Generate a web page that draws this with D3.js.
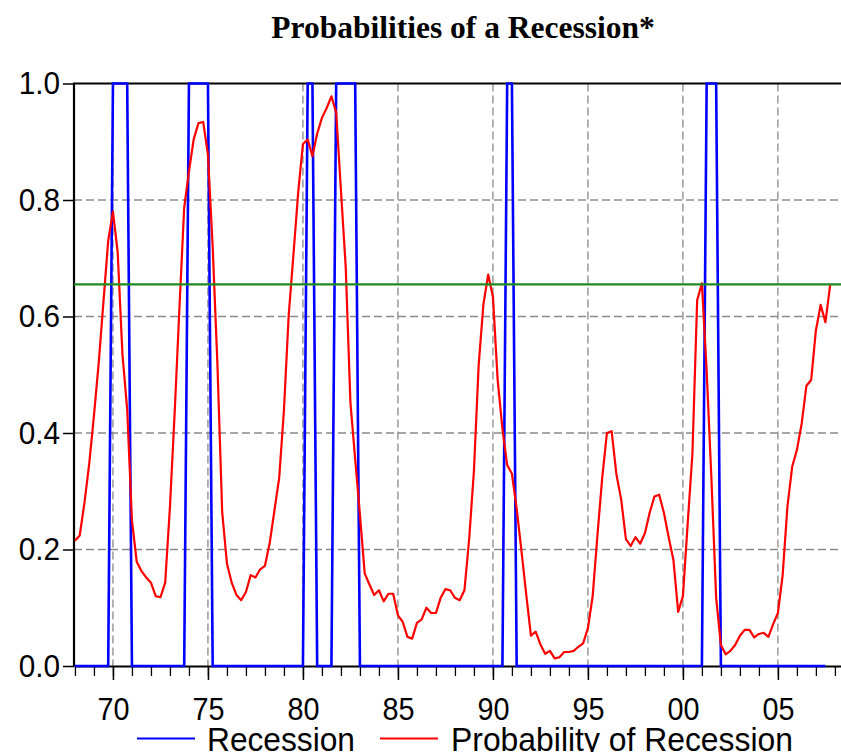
<!DOCTYPE html>
<html>
<head>
<meta charset="utf-8">
<script src="https://cdn.jsdelivr.net/npm/d3@7"></script>
<style>
    body { margin: 0; background: #fff; }
    svg { display: block; }
    .tick-label { font-family: Arial, "Liberation Sans", sans-serif; font-size: 32px; fill: #000; }
    .legend-label { font-family: Arial, "Liberation Sans", sans-serif; font-size: 33px; fill: #000; }
    .title { font-family: "Times New Roman", "Liberation Serif", serif; font-size: 31.5px; font-weight: bold; }
</style>
</head>
<body>
<svg id="chart" width="841" height="752"></svg>
<script>
// Quarterly data, 1968Q1 .. 2007Q4

const startYear = 1968;

// Probability of recession, one row per year (Q1..Q4)
const probability = [
    0.215, 0.224, 0.280, 0.347,   // 1968
    0.430, 0.520, 0.625, 0.730,   // 1969
    0.780, 0.710, 0.535, 0.440,   // 1970
    0.250, 0.179, 0.163, 0.152,   // 1971
    0.143, 0.120, 0.118, 0.143,   // 1972
    0.273, 0.436, 0.615, 0.787,   // 1973
    0.849, 0.904, 0.932, 0.934,   // 1974
    0.878, 0.719, 0.517, 0.264,   // 1975
    0.176, 0.143, 0.122, 0.113,   // 1976
    0.127, 0.156, 0.152, 0.166,   // 1977
    0.172, 0.211, 0.267, 0.323,   // 1978
    0.439, 0.602, 0.706, 0.813,   // 1979
    0.896, 0.904, 0.875, 0.914,   // 1980
    0.941, 0.958, 0.978, 0.950,   // 1981
    0.817, 0.686, 0.452, 0.355,   // 1982
    0.260, 0.159, 0.140, 0.122,   // 1983
    0.130, 0.111, 0.124, 0.124,   // 1984
    0.087, 0.076, 0.050, 0.047,   // 1985
    0.074, 0.080, 0.100, 0.091,   // 1986
    0.091, 0.117, 0.132, 0.130,   // 1987
    0.117, 0.113, 0.130, 0.218,   // 1988
    0.335, 0.517, 0.621, 0.672,   // 1989
    0.634, 0.491, 0.407, 0.345,   // 1990
    0.330, 0.270, 0.198, 0.124,   // 1991
    0.052, 0.059, 0.037, 0.021,   // 1992
    0.026, 0.013, 0.015, 0.024,   // 1993
    0.024, 0.026, 0.033, 0.039,   // 1994
    0.065, 0.120, 0.224, 0.322,   // 1995
    0.400, 0.403, 0.329, 0.286,   // 1996
    0.218, 0.206, 0.221, 0.210,   // 1997
    0.228, 0.263, 0.291, 0.294,   // 1998
    0.263, 0.221, 0.182, 0.093,   // 1999
    0.120, 0.244, 0.364, 0.628,   // 2000
    0.657, 0.507, 0.322, 0.117,   // 2001
    0.036, 0.020, 0.026, 0.036,   // 2002
    0.052, 0.062, 0.062, 0.049,   // 2003
    0.055, 0.057, 0.050, 0.072,   // 2004
    0.091, 0.156, 0.273, 0.342,   // 2005
    0.371, 0.416, 0.481, 0.491,   // 2006
    0.576, 0.620, 0.590, 0.654    // 2007
];

// Recession indicator (1 = recession quarter), 1968Q1 .. 2007Q3
const recession = [
    0, 0, 0, 0,   // 1968
    0, 0, 0, 0,   // 1969
    1, 1, 1, 1,   // 1970
    0, 0, 0, 0,   // 1971
    0, 0, 0, 0,   // 1972
    0, 0, 0, 0,   // 1973
    1, 1, 1, 1,   // 1974
    1, 0, 0, 0,   // 1975
    0, 0, 0, 0,   // 1976
    0, 0, 0, 0,   // 1977
    0, 0, 0, 0,   // 1978
    0, 0, 0, 0,   // 1979
    0, 1, 1, 0,   // 1980
    0, 0, 0, 1,   // 1981
    1, 1, 1, 1,   // 1982
    0, 0, 0, 0,   // 1983
    0, 0, 0, 0,   // 1984
    0, 0, 0, 0,   // 1985
    0, 0, 0, 0,   // 1986
    0, 0, 0, 0,   // 1987
    0, 0, 0, 0,   // 1988
    0, 0, 0, 0,   // 1989
    0, 0, 0, 1,   // 1990
    1, 0, 0, 0,   // 1991
    0, 0, 0, 0,   // 1992
    0, 0, 0, 0,   // 1993
    0, 0, 0, 0,   // 1994
    0, 0, 0, 0,   // 1995
    0, 0, 0, 0,   // 1996
    0, 0, 0, 0,   // 1997
    0, 0, 0, 0,   // 1998
    0, 0, 0, 0,   // 1999
    0, 0, 0, 0,   // 2000
    0, 1, 1, 1,   // 2001
    0, 0, 0, 0,   // 2002
    0, 0, 0, 0,   // 2003
    0, 0, 0, 0,   // 2004
    0, 0, 0, 0,   // 2005
    0, 0, 0, 0,   // 2006
    0, 0, 0       // 2007
];

// Horizontal reference line (latest probability)
const threshold = [0.655];

const yTicks = [0, 0.2, 0.4, 0.6, 0.8, 1.0];
const majorYears = [1970, 1975, 1980, 1985, 1990, 1995, 2000, 2005];
const yearLabels = ['70', '75', '80', '85', '90', '95', '00', '05'];

const seriesNames = ['Recession', 'Probability of Recession'];
const seriesColors = ['#0000ff', '#ff0000'];

const svg = d3.select('#chart');

const plot = { left: 74, right: 842.5, top: 83.5, bottom: 666 };

const x = d3.scaleLinear()
    .domain([1967.95, 2008.4])
    .range([plot.left, plot.right]);

const y = d3.scaleLinear()
    .domain([0, 1])
    .range([plot.bottom, plot.top]);

const quarterDate = i => startYear + i / 4;

// Squeeze tall text horizontally, the way the original renders it
function condense(sel, factor) {
    sel.each(function() {
        const w = this.getComputedTextLength();
        d3.select(this)
            .attr('textLength', w * factor)
            .attr('lengthAdjust', 'spacingAndGlyphs');
    });
}

// Title
svg.append('text')
    .attr('class', 'title')
    .attr('x', 463)
    .attr('y', 38)
    .attr('text-anchor', 'middle')
    .text('Probabilities of a Recession*');

// Grid lines
const grid = svg.append('g').attr('class', 'grid')
    .attr('stroke', '#8a8a8a')
    .attr('stroke-width', 1.3)
    .attr('stroke-dasharray', '8,4');

grid.selectAll('.hgrid')
    .data(yTicks.filter(v => v > 0 && v < 1))
    .enter()
    .append('line')
    .attr('x1', plot.left)
    .attr('x2', plot.right)
    .attr('y1', d => y(d))
    .attr('y2', d => y(d));

grid.selectAll('.vgrid')
    .data(majorYears)
    .enter()
    .append('line')
    .attr('x1', d => x(d))
    .attr('x2', d => x(d))
    .attr('y1', plot.top)
    .attr('y2', plot.bottom);

// Frame: left and top spines
svg.append('path')
    .attr('d', `M${plot.left},${plot.bottom}V${plot.top}H${plot.right}`)
    .attr('fill', 'none')
    .attr('stroke', '#000')
    .attr('stroke-width', 2.2);

// Y axis
const yAxis = d3.axisLeft(y)
    .tickValues(yTicks)
    .tickFormat(d3.format('.1f'))
    .tickSizeInner(11)
    .tickSizeOuter(0)
    .tickPadding(3);

const yAxisG = svg.append('g')
    .attr('transform', `translate(${plot.left},0)`)
    .call(yAxis);
yAxisG.select('.domain').remove();
yAxisG.selectAll('.tick line').attr('stroke', '#000').attr('stroke-width', 1.5);
yAxisG.selectAll('.tick text')
    .attr('class', 'tick-label')
    .attr('font-size', null)
    .attr('font-family', null)
    .call(condense, 0.93);

// X axis: minor yearly ticks, major every five years
const years = d3.range(1968, 2009);

const xMinor = d3.axisBottom(x)
    .tickValues(years)
    .tickFormat('')
    .tickSizeInner(10)
    .tickSizeOuter(0);

const xMinorG = svg.append('g')
    .attr('transform', `translate(0,${plot.bottom})`)
    .call(xMinor);
xMinorG.select('.domain').attr('stroke', '#000').attr('stroke-width', 2.2);
xMinorG.selectAll('.tick line').attr('stroke', '#000').attr('stroke-width', 1.3);

const xMajor = d3.axisBottom(x)
    .tickValues(majorYears)
    .tickFormat((d, i) => yearLabels[i])
    .tickSizeInner(14)
    .tickSizeOuter(0)
    .tickPadding(8);

const xMajorG = svg.append('g')
    .attr('transform', `translate(0,${plot.bottom})`)
    .call(xMajor);
xMajorG.select('.domain').remove();
xMajorG.selectAll('.tick line').attr('stroke', '#000').attr('stroke-width', 1.5);
xMajorG.selectAll('.tick text')
    .attr('class', 'tick-label')
    .attr('font-size', null)
    .attr('font-family', null)
    .attr('dy', null)
    .attr('y', 54)
    .call(condense, 0.9);

// Series lines
const line = d3.line()
    .x((d, i) => x(quarterDate(i)))
    .y(d => y(d));

const series = svg.append('g').attr('class', 'series').attr('fill', 'none');

series.append('path')
    .datum(recession)
    .attr('d', line)
    .attr('stroke', seriesColors[0])
    .attr('stroke-width', 2.6);

series.append('path')
    .datum(probability)
    .attr('d', line)
    .attr('stroke', seriesColors[1])
    .attr('stroke-width', 2.2)
    .attr('stroke-linejoin', 'round');

// Green reference line
series.selectAll('.threshold')
    .data(threshold)
    .enter()
    .append('line')
    .attr('x1', plot.left)
    .attr('x2', plot.right)
    .attr('y1', d => y(d))
    .attr('y2', d => y(d))
    .attr('stroke', '#1f8a1f')
    .attr('stroke-width', 2.2);

// Legend
const legendItems = [
    { x1: 137, x2: 195, tx: 207, w: 148 },
    { x1: 380, x2: 438, tx: 451, w: 342 }
];

const legend = svg.append('g').attr('class', 'legend');

legend.selectAll('line')
    .data(legendItems)
    .enter()
    .append('line')
    .attr('x1', d => d.x1)
    .attr('x2', d => d.x2)
    .attr('y1', 738.5)
    .attr('y2', 738.5)
    .attr('stroke', (d, i) => seriesColors[i])
    .attr('stroke-width', 2.2);

legend.selectAll('text')
    .data(legendItems)
    .enter()
    .append('text')
    .attr('class', 'legend-label')
    .attr('x', d => d.tx)
    .attr('y', 751)
    .attr('textLength', d => d.w)
    .attr('lengthAdjust', 'spacingAndGlyphs')
    .text((d, i) => seriesNames[i]);
</script>
</body>
</html>
